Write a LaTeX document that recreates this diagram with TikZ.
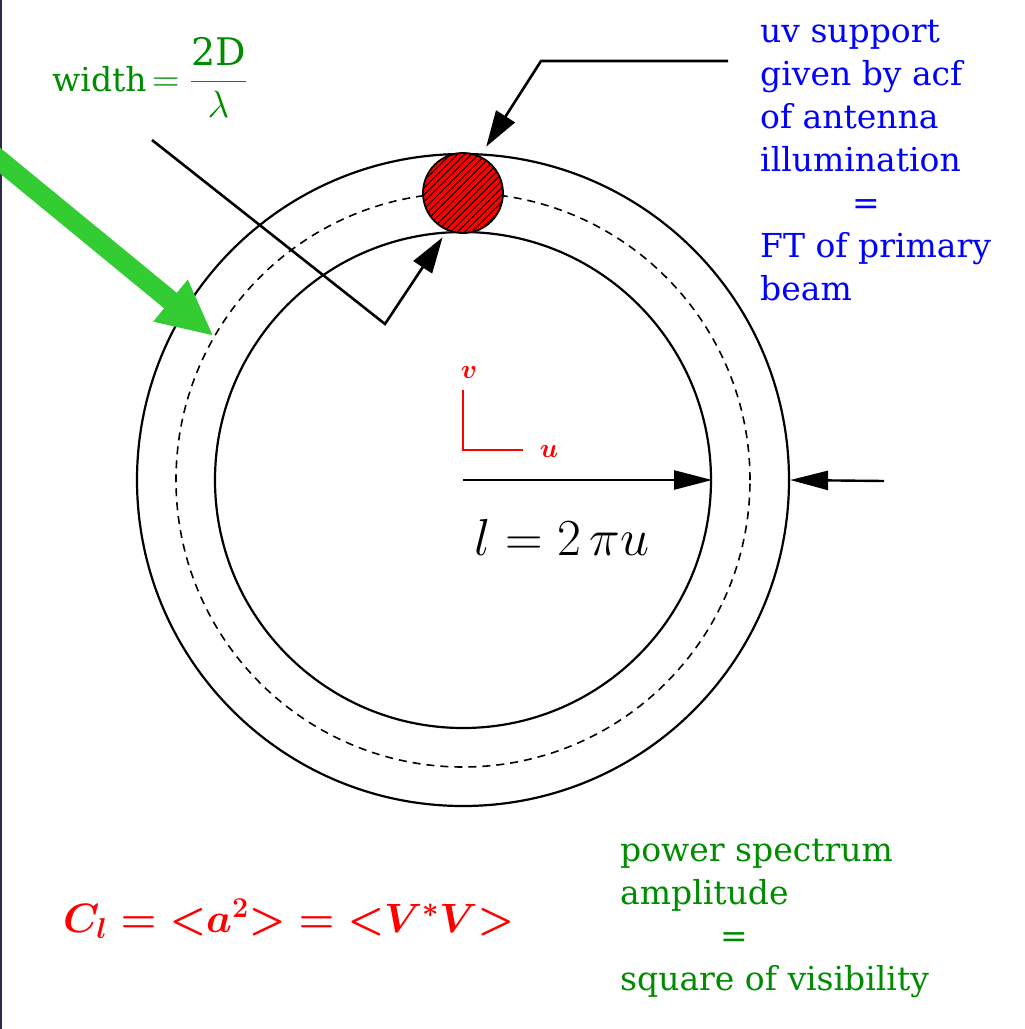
\RequirePackage{fix-cm}
\documentclass[tikz,border=0pt]{standalone}
\usepackage{fontspec}
\setmainfont{DejaVu Serif}
\usepackage{tikz}
\usetikzlibrary{arrows.meta,patterns.meta,positioning}
\definecolor{uvblue}    {HTML}{0000FF}
\definecolor{psgreen}   {HTML}{008C00}
\definecolor{arrowgreen}{HTML}{33CC33}
\definecolor{navyedge}  {HTML}{2A2A48}
\definecolor{spotred}   {HTML}{FF0000}
\begin{document}
\begin{tikzpicture}[
  x=1pt, y=-1pt,
  ring/.style   ={draw,circle,line width=2.2pt,inner sep=0pt},
  pointer/.style={line width=2.6pt,-{Triangle[length=36pt,width=22pt]}},
  gauge/.style  ={line width=2.4pt,-{Triangle[length=38pt,width=19pt]}},
  bluetxt/.style={text=uvblue,font=\fontsize{33}{43}\selectfont,
                  align=left,anchor=base west,inner sep=0pt},
  greentxt/.style={bluetxt,text=psgreen},
  axis/.style   ={spotred,line width=1.4pt},
  axlbl/.style  ={text=spotred,font=\fontsize{27}{27}\selectfont\boldmath}
]
\useasboundingbox (0,0) rectangle (1025,1029);
\fill[navyedge] (0,0) rectangle (2,1029);

%% rings of the uv plane
\coordinate (c) at (463,480);
\node[ring,minimum size=652pt] (outer) at (c) {};
\node[ring,minimum size=496pt] (inner) at (c) {};
\node[ring,line width=1.6pt,dash pattern=on 8pt off 6pt,
      minimum size=574pt] (mid) at (c) {};

%% antenna support spot
\node[circle,draw,line width=1.8pt,fill=spotred,minimum size=80pt,inner sep=0pt,
      postaction={pattern={Lines[angle=45,distance=5pt,line width=1pt]}}]
      (spot) at (463,193) {};

%% pointers to the spot
\coordinate (pr) at (728,61);
\draw[pointer,shorten >=11pt] (pr) -- (541,61) -- (spot.65);
\coordinate (pl) at (152,140);
\draw[pointer,shorten >=8pt] (pl) -- (385,324) -- (spot.-113);

%% green arrow onto the dashed ring
\coordinate (gs) at (-8,154);
\draw[arrowgreen,line width=20pt,
      -{Triangle[length=56pt,width=50pt]}] (gs) -- (mid.150);

%% radius arrows
\coordinate (rt) at (884,481);
\draw[gauge] (c) -- (inner.east);
\draw[gauge] (rt) -- (outer.east);

%% u,v axes
\coordinate (o) at (463,450);
\draw[axis] (463,390) -- (o) -- (523,450);
\node[axlbl] (vl) at (469,372) {$v$};
\node[axlbl] (ul) at (549,451) {$u$};

%% labels
\node[font=\fontsize{52}{52}\selectfont,anchor=base] (ell) at (562,555)
  {$l=2\,\pi u$};
\node[text=psgreen,font=\fontsize{33}{36}\selectfont,anchor=base west,inner sep=0pt]
  (wid) at (52,91) {width\,{\fontsize{38}{40}\selectfont$=\displaystyle\frac{\mathrm{2D}}{\lambda}$}};
\node[text=spotred,font=\fontsize{41}{41}\selectfont\boldmath,anchor=base west,inner sep=0pt]
  (cl) at (63,932) {$C_l\mathrel{=}{<}a^2{>}\mathrel{=}{<}V^{*}V{>}$};

\node[bluetxt] (uv) at (760,300) {uv support\\given by acf\\of antenna\\illumination\\
  \hspace*{92pt}=\\FT of primary\\beam};
\node[greentxt] (ps) at (620,990) {power spectrum\\amplitude\\
  \hspace*{100pt}=\\square of visibility};
\end{tikzpicture}
\end{document}
